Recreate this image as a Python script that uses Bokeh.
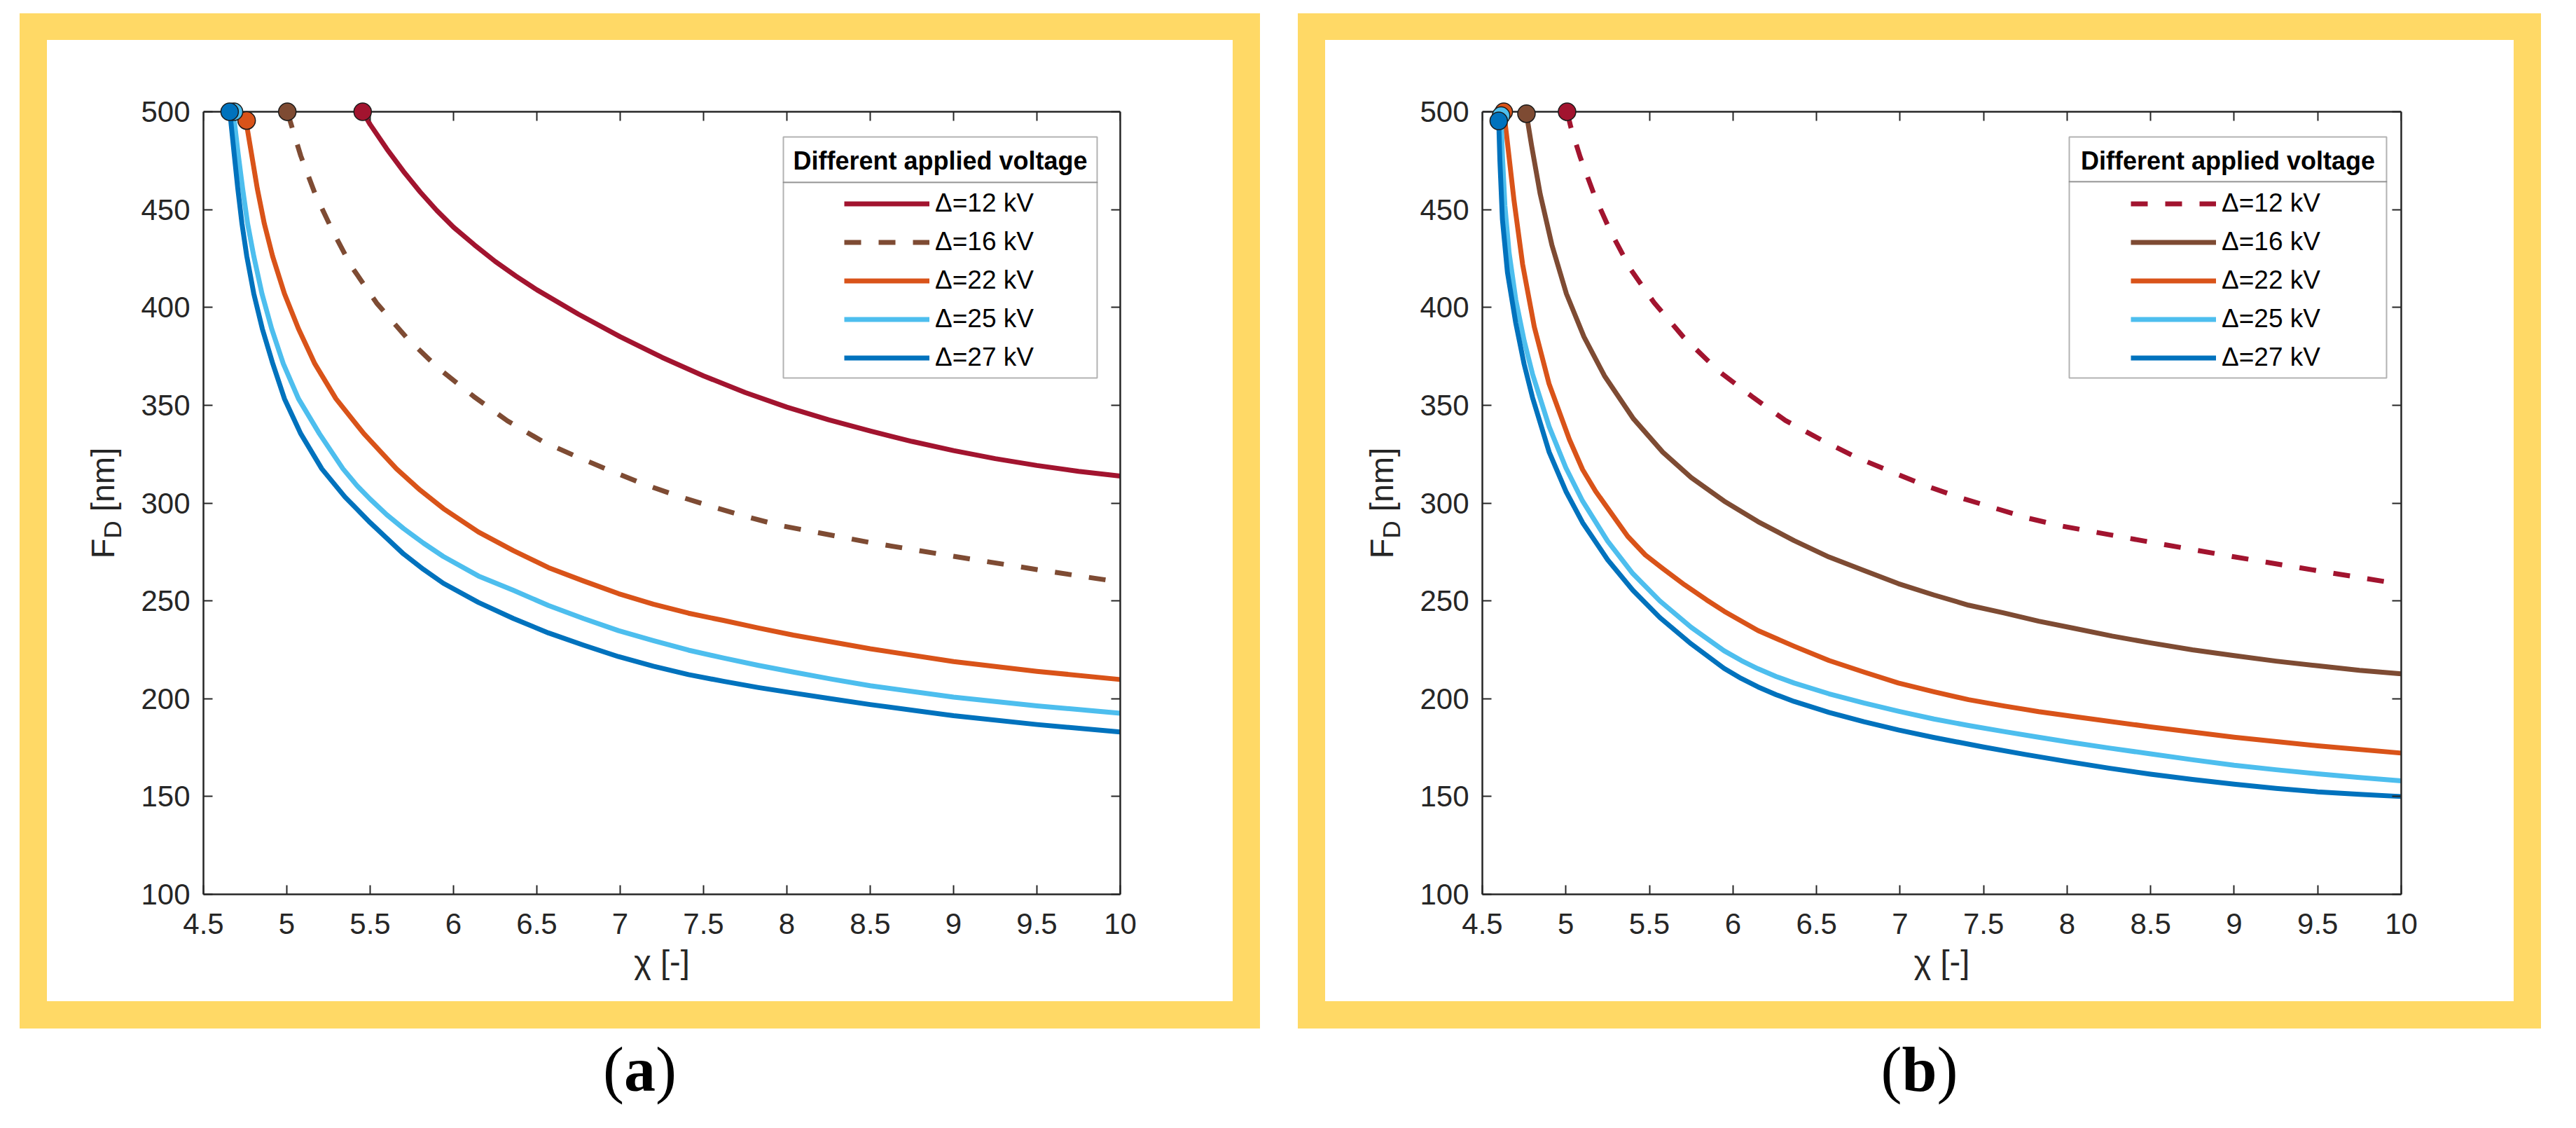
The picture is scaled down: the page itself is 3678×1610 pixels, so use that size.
from bokeh.plotting import figure
from bokeh.models import (Range1d, FixedTicker, LinearAxis, Legend, LegendItem,
                          BoxAnnotation, Label, Div, Spacer, ColumnDataSource)
from bokeh.layouts import row, column
from bokeh.embed import file_html
from bokeh.resources import INLINE

# ---- values ----
series_labels = ["Δ=12 kV", "Δ=16 kV", "Δ=22 kV", "Δ=25 kV", "Δ=27 kV"]
series_colors = ["#A2142F", "#7E4B33", "#D95319", "#4DBEEE", "#0072BD"]

x_ticks = [4.5, 5, 5.5, 6, 6.5, 7, 7.5, 8, 8.5, 9, 9.5, 10]
x_tick_labels = ["4.5", "5", "5.5", "6", "6.5", "7", "7.5", "8", "8.5", "9", "9.5", "10"]
y_ticks = [100, 150, 200, 250, 300, 350, 400, 450, 500]

# panel (a)
chi_a_12 = [5.455, 5.5, 5.6, 5.7, 5.8, 5.9, 6.0, 6.125, 6.25, 6.375, 6.5, 6.75, 7.0, 7.25, 7.5,
            7.75, 8.0, 8.25, 8.5, 8.75, 9.0, 9.25, 9.5, 9.75, 10.0]
fd_a_12 = [500.0, 493.5, 481.0, 469.5, 459.0, 449.5, 441.0, 432.0, 423.5, 416.0, 409.0, 396.5, 385.0, 374.5, 365.0,
           356.5, 349.0, 342.6, 336.8, 331.5, 326.8, 322.7, 319.2, 316.2, 313.8]

chi_a_16 = [5.003, 5.028, 5.084, 5.168, 5.274, 5.385, 5.539, 5.721, 5.911, 6.121, 6.324, 6.534, 6.737, 6.933,
            7.143, 7.346, 7.549, 7.752, 7.955, 8.50, 9.00, 9.50, 10.0]
fd_a_16 = [500.0, 493.0, 477.4, 458.4, 439.2, 421.3, 402.2, 384.3, 368.8, 354.5, 342.0, 331.5, 323.8, 316.8,
           309.6, 303.6, 298.2, 293.2, 288.6, 279.8, 272.8, 266.0, 259.6]

chi_a_22 = [4.759, 4.762, 4.788, 4.823, 4.865, 4.915, 4.986, 5.070, 5.168, 5.295, 5.463, 5.658, 5.80, 5.939,
            6.15, 6.359, 6.57, 6.779, 6.99, 7.199, 7.41, 7.619, 7.83, 8.039, 8.50, 9.00, 9.50, 10.0]
fd_a_22 = [495.5, 491.8, 478.6, 460.7, 442.8, 426.1, 407.0, 389.1, 371.2, 353.3, 335.4, 317.5, 306.6, 297.2,
           285.2, 275.7, 267.0, 260.2, 253.7, 248.3, 243.7, 240.0, 236.1, 232.5, 225.5, 219.0, 214.0, 209.8]

chi_a_25 = [4.683, 4.685, 4.708, 4.735, 4.765, 4.802, 4.851, 4.909, 4.979, 5.070, 5.196, 5.337, 5.42, 5.50,
            5.60, 5.70, 5.82, 5.939, 6.15, 6.359, 6.57, 6.779, 6.99, 7.199, 7.41, 7.619, 7.83, 8.039, 8.27,
            8.50, 9.00, 9.50, 10.0]
fd_a_25 = [500.0, 495.3, 478.6, 460.7, 442.8, 426.1, 407.0, 389.1, 371.2, 353.3, 335.4, 317.5, 309.0, 302.0,
           294.0, 287.0, 279.5, 272.7, 262.7, 255.4, 247.6, 241.0, 234.8, 229.7, 224.8, 220.8, 217.0, 213.6, 210.0,
           206.6, 200.8, 196.3, 192.6]

chi_a_27 = [4.657, 4.664, 4.684, 4.706, 4.731, 4.760, 4.802, 4.853, 4.916, 4.986, 5.084, 5.210, 5.350, 5.50,
            5.70, 5.82, 5.939, 6.15, 6.359, 6.57, 6.779, 6.99, 7.199, 7.41, 7.619, 7.83, 8.039, 8.27, 8.50,
            9.00, 9.50, 10.0]
fd_a_27 = [500.0, 495.3, 478.6, 460.7, 442.8, 426.1, 407.0, 389.1, 371.2, 353.3, 335.4, 317.5, 303.0, 290.0,
           274.0, 266.1, 259.0, 249.2, 241.0, 233.6, 227.4, 221.5, 216.6, 212.3, 208.9, 205.7, 202.9, 199.9, 197.0,
           191.3, 186.8, 183.0]

start_chi_a = [5.455, 5.003, 4.759, 4.683, 4.657]
start_fd_a = [500.0, 500.0, 495.5, 500.0, 500.0]

# panel (b)
chi_b_12 = [5.007, 5.030, 5.085, 5.170, 5.266, 5.388, 5.528, 5.702, 5.912, 6.121, 6.314, 6.526, 6.735, 6.938,
            7.147, 7.343, 7.552, 7.761, 7.964, 8.50, 9.00, 9.50, 10.0]
fd_b_12 = [500.0, 492.0, 477.0, 457.4, 439.0, 419.4, 402.4, 385.0, 367.6, 354.0, 342.2, 332.4, 323.5, 316.3,
           309.1, 303.2, 297.8, 292.4, 288.3, 280.0, 272.5, 265.4, 258.5]

chi_b_16 = [4.764, 4.775, 4.794, 4.846, 4.916, 5.003, 5.108, 5.231, 5.405, 5.580, 5.750, 5.947, 6.150, 6.366,
            6.575, 6.784, 6.99, 7.203, 7.41, 7.622, 7.83, 8.041, 8.27, 8.50, 8.75, 9.00, 9.25, 9.50, 9.75, 10.0]
fd_b_16 = [499.0, 493.0, 483.0, 458.0, 432.0, 407.0, 385.0, 365.0, 343.0, 326.0, 313.0, 301.0, 290.5, 280.8,
           272.4, 265.5, 258.8, 253.0, 247.8, 243.8, 239.6, 236.0, 232.0, 228.5, 225.0, 222.0, 219.2, 216.8, 214.5, 212.7]

chi_b_22 = [4.628, 4.645, 4.689, 4.741, 4.811, 4.899, 5.021, 5.10, 5.178, 5.370, 5.475, 5.580, 5.71, 5.842,
            5.947, 6.15, 6.366, 6.575, 6.784, 6.99, 7.203, 7.41, 7.622, 7.83, 8.041, 8.50, 9.00, 9.50, 10.0]
fd_b_22 = [500.0, 488.0, 455.0, 422.0, 390.0, 361.0, 332.5, 317.1, 306.0, 283.0, 273.5, 266.5, 258.2, 250.5,
           244.7, 234.8, 226.8, 219.5, 213.6, 208.0, 203.5, 199.5, 196.3, 193.4, 190.9, 185.6, 180.3, 175.9, 172.2]

chi_b_25 = [4.612, 4.620, 4.635, 4.660, 4.700, 4.750, 4.800, 4.900, 5.000, 5.100, 5.250, 5.400, 5.562, 5.750,
            5.947, 6.05, 6.15, 6.26, 6.366, 6.575, 6.784, 6.99, 7.203, 7.41, 7.622, 7.81, 8.00, 8.25, 8.50,
            8.75, 9.00, 9.25, 9.50, 9.75, 10.0]
fd_b_25 = [498.0, 478.0, 452.0, 428.0, 404.0, 383.0, 366.0, 339.0, 318.0, 301.0, 280.5, 264.0, 250.0, 236.5,
           224.5, 219.5, 215.3, 211.3, 208.0, 202.5, 197.8, 193.6, 189.6, 186.3, 183.2, 180.6, 178.0, 174.8, 171.8,
           168.8, 166.0, 163.7, 161.6, 159.7, 158.0]

chi_b_27 = [4.598, 4.605, 4.620, 4.650, 4.700, 4.750, 4.800, 4.900, 5.000, 5.100, 5.250, 5.400, 5.562, 5.750,
            5.947, 6.05, 6.15, 6.26, 6.366, 6.575, 6.784, 6.99, 7.20, 7.50, 7.75, 8.00, 8.25, 8.50, 8.75, 9.00,
            9.25, 9.50, 9.75, 10.0]
fd_b_27 = [495.3, 475.0, 445.0, 418.0, 392.0, 371.0, 354.0, 326.0, 306.0, 290.0, 271.0, 255.5, 241.5, 228.0,
           215.5, 210.3, 206.0, 202.0, 198.6, 193.0, 188.2, 184.0, 180.2, 175.3, 171.5, 167.9, 164.5, 161.4, 158.7,
           156.3, 154.2, 152.4, 151.1, 150.0]

start_chi_b = [5.007, 4.764, 4.628, 4.612, 4.598]
start_fd_b = [500.0, 499.0, 500.0, 498.0, 495.3]

# ---- styling / layout ----
YELLOW = "#FFD966"
INK = "#262626"
FONT = "Liberation Sans"
INNER_H = 1372
# frame reaches 17px above the 500 line so the start markers are drawn whole
Y_TOP = 100 + 400 * 1134 / 1117

geo_a = dict(outer_w=1771, fig_w=1573, left=103, frame_w=1309, box=(828, 1276), sep=101, item=915, lab_x=81)
geo_b = dict(outer_w=1775, fig_w=1577, left=104, frame_w=1312, box=(838, 1291), sep=100, item=926, lab_x=82)


def make_plot(g, curves, dashes, start_chi, start_fd):
    p = figure(width=g["fig_w"], height=INNER_H, x_range=Range1d(4.5, 10), y_range=Range1d(100, Y_TOP),
               output_backend="svg", toolbar_location=None,
               min_border_left=g["left"], min_border_right=161, min_border_top=85, min_border_bottom=153,
               background_fill_color="white", border_fill_color="white", outline_line_color=None)
    p.xgrid.visible = False
    p.ygrid.visible = False

    bottom = p.below[0]
    left = p.left[0]
    top = LinearAxis(fixed_location=500)
    right = LinearAxis()
    p.add_layout(top, "above")
    p.add_layout(right, "right")

    for ax in (bottom, top):
        ax.ticker = FixedTicker(ticks=x_ticks)
    for ax in (left, right):
        ax.ticker = FixedTicker(ticks=y_ticks)
        ax.bounds = (100, 500)
    for ax in (bottom, left, top, right):
        ax.axis_line_color = INK
        ax.axis_line_width = 2.5
        ax.major_tick_line_color = INK
        ax.major_tick_line_width = 2
        ax.major_tick_in = 13
        ax.major_tick_out = 0
        ax.minor_tick_line_color = None
        ax.major_label_text_font = FONT
        ax.major_label_text_font_size = "42px"
        ax.major_label_text_color = INK
    top.major_label_text_color = None
    right.major_label_text_color = None

    bottom.major_label_overrides = dict(zip(x_ticks, x_tick_labels))
    bottom.major_label_standoff = 27
    bottom.axis_label = "χ [-]"
    bottom.axis_label_text_font = FONT
    bottom.axis_label_text_font_size = "47px"
    bottom.axis_label_text_font_style = "normal"
    bottom.axis_label_text_color = INK
    bottom.axis_label_standoff = 10
    left.major_label_standoff = 19

    renderers = []
    for (chi, fd), color, dash in zip(curves, series_colors, dashes):
        r = p.line(chi, fd, line_color=color, line_width=7, line_dash=dash, line_join="round")
        renderers.append(r)

    src = ColumnDataSource(dict(x=start_chi, y=start_fd, c=series_colors))
    p.scatter(x="x", y="y", source=src, size=25, fill_color="c", line_color="#1A1A1A",
              line_width=1.5, level="overlay")

    # legend frame with title row, positioned like the original
    def gx(d):
        return 4.5 + d * 5.5 / g["frame_w"]

    def gy(d):
        return 500 - d * 400 / 1117

    bl, br = g["box"]
    p.add_layout(BoxAnnotation(left=gx(bl), right=gx(br), top=gy(36), bottom=gy(g["sep"]),
                               fill_color="white", fill_alpha=1, line_color="black", line_width=2))
    p.add_layout(BoxAnnotation(left=gx(bl), right=gx(br), top=gy(g["sep"]), bottom=gy(380),
                               fill_color="white", fill_alpha=1, line_color="black", line_width=2))
    p.add_layout(Label(x=gx((bl + br) / 2), y=gy(70.4), text="Different applied voltage",
                       text_font=FONT, text_font_style="bold", text_font_size="36px",
                       text_color="black", text_align="center", text_baseline="middle"))

    legend = Legend(items=[LegendItem(label=l, renderers=[r]) for l, r in zip(series_labels, renderers)],
                    location=(g["item"], 738.5), glyph_width=122, glyph_height=55, label_height=55,
                    label_standoff=8, spacing=0, padding=0, margin=0,
                    label_text_font=FONT, label_text_font_size="37px", label_text_color="black",
                    border_line_color=None, background_fill_alpha=0)
    p.add_layout(legend)
    return p


def yellow(w, h):
    return Div(width=w, height=h, margin=0, styles={"background-color": YELLOW})


def framed(p, g, caption):
    ylab = Div(width=120, height=INNER_H, margin=0, styles={"overflow": "visible"}, text=(
        '<div style="position:relative;width:120px;height:%dpx;">'
        '<div style="position:absolute;left:%dpx;top:661px;transform:translate(-50%%,-50%%) rotate(-90deg);'
        'white-space:nowrap;font-family:\'Liberation Sans\';font-size:47px;line-height:47px;color:%s;">'
        'F<span style="font-size:35px;position:relative;top:10px;">D</span> [nm]</div></div>'
        % (INNER_H, g["lab_x"], INK)))
    cap = Div(width=g["outer_w"], height=126, margin=0, text=(
        '<div style="width:%dpx;text-align:center;font-family:\'Liberation Serif\';font-size:90px;'
        'line-height:90px;padding-top:14px;color:black;">(<b>%s</b>)</div>' % (g["outer_w"], caption)))
    inner = row(yellow(39, INNER_H), ylab, p, yellow(39, INNER_H))
    return column(yellow(g["outer_w"], 38), inner, yellow(g["outer_w"], 39), cap)


plot_a = make_plot(geo_a,
                   [(chi_a_12, fd_a_12), (chi_a_16, fd_a_16), (chi_a_22, fd_a_22),
                    (chi_a_25, fd_a_25), (chi_a_27, fd_a_27)],
                   ["solid", "24 25", "solid", "solid", "solid"], start_chi_a, start_fd_a)
plot_b = make_plot(geo_b,
                   [(chi_b_12, fd_b_12), (chi_b_16, fd_b_16), (chi_b_22, fd_b_22),
                    (chi_b_25, fd_b_25), (chi_b_27, fd_b_27)],
                   ["24 25", "solid", "solid", "solid", "solid"], start_chi_b, start_fd_b)

page = column(Spacer(width=10, height=19),
              row(Spacer(width=28, height=10), framed(plot_a, geo_a, "a"),
                  Spacer(width=54, height=10), framed(plot_b, geo_b, "b")))

open("out.html", "w", encoding="utf-8").write(file_html(page, INLINE))
